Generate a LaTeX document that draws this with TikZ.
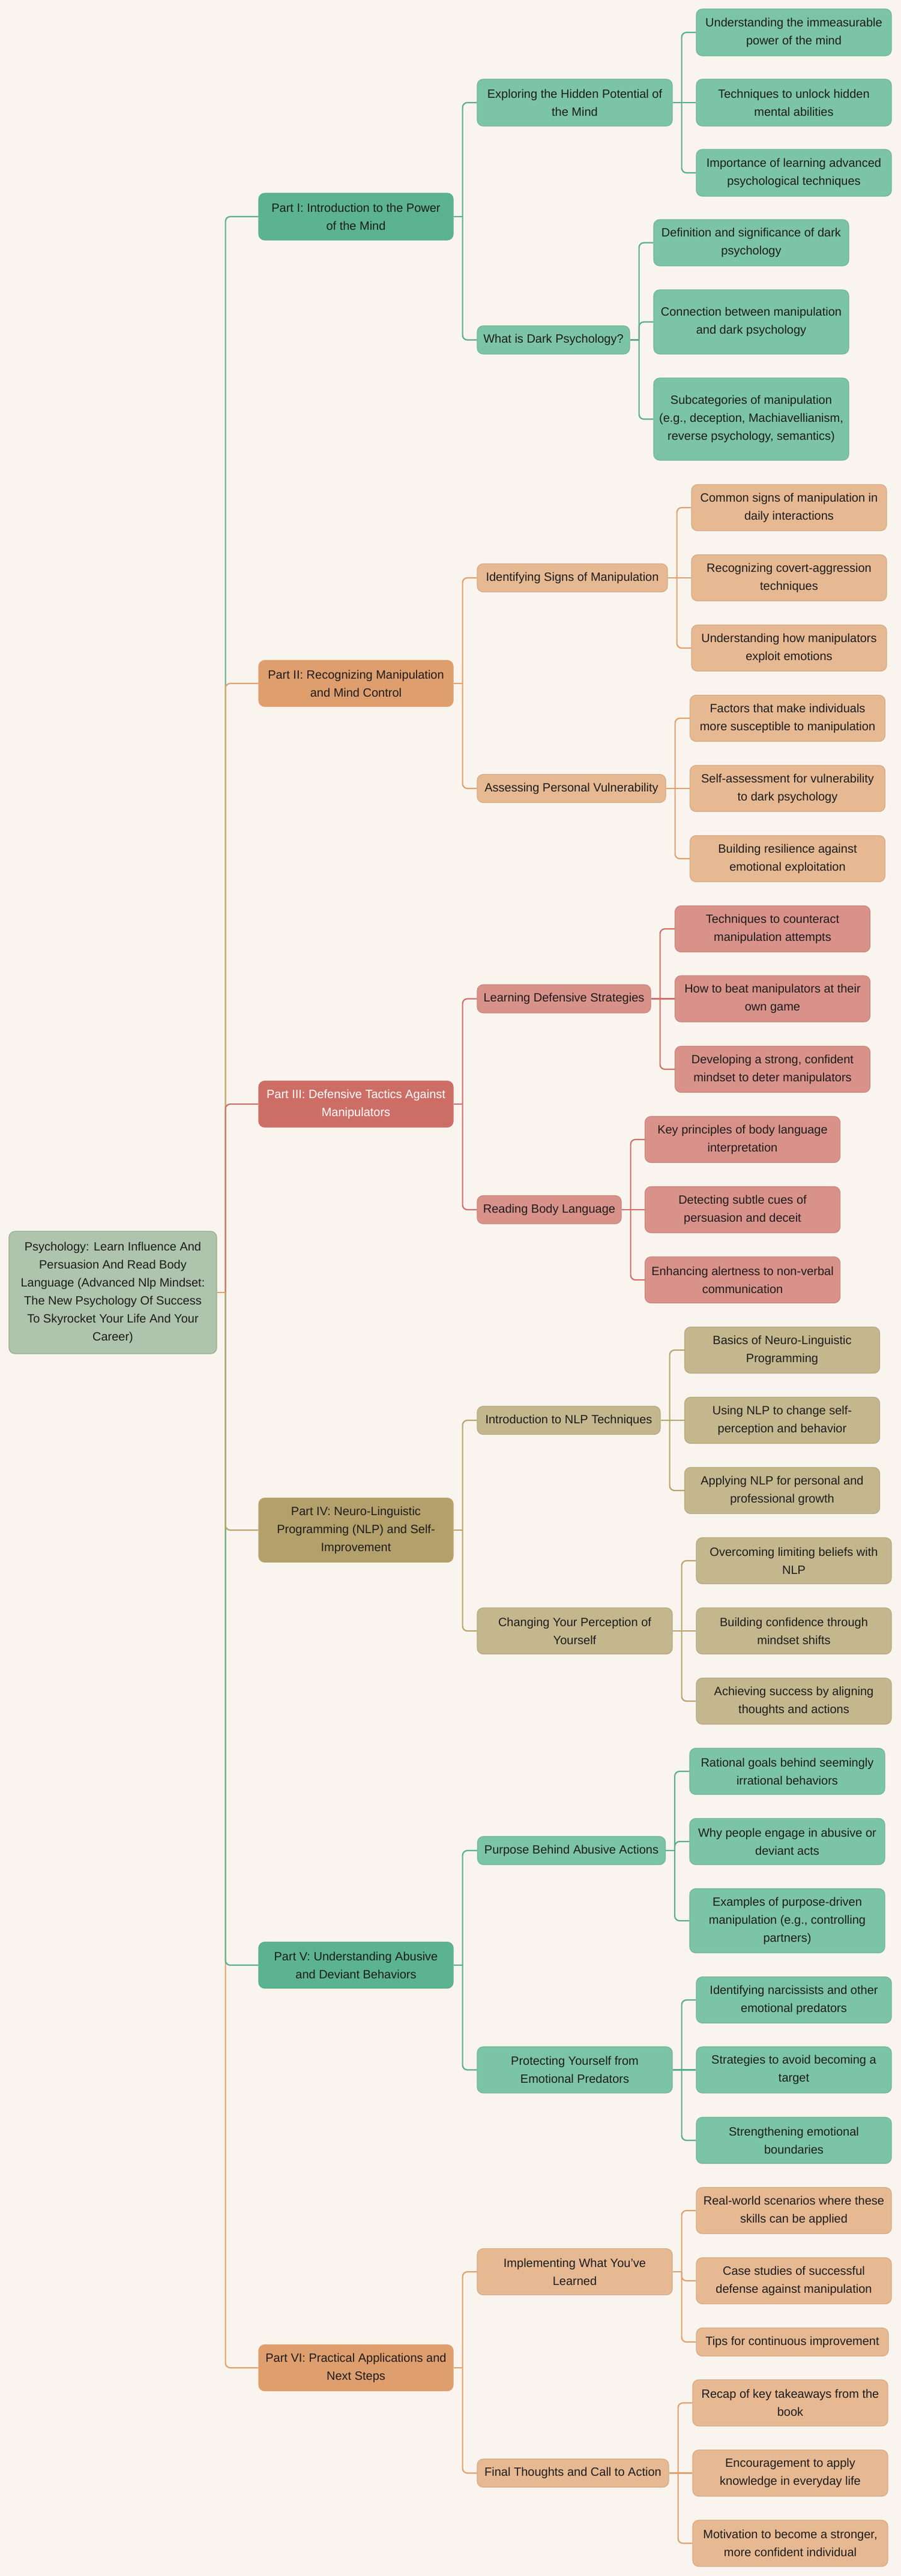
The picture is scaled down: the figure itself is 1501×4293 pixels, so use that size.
\documentclass[tikz,border=0pt]{standalone}
\usepackage{fontspec}
\setmainfont{Liberation Sans}
\usetikzlibrary{positioning}
\definecolor{bgCream}{HTML}{F9F5EE}
\definecolor{inkText}{HTML}{1C1C1C}
\definecolor{rootFill}{HTML}{AFC4AC}
\definecolor{rootLine}{HTML}{93AE8E}
\definecolor{greenPart}{HTML}{5BB391}
\definecolor{greenSub}{HTML}{7CC4A7}
\definecolor{greenLine}{HTML}{5AAE8C}
\definecolor{orangePart}{HTML}{DF9E6D}
\definecolor{orangeSub}{HTML}{E6B993}
\definecolor{orangeLine}{HTML}{E2A06E}
\definecolor{redPart}{HTML}{CD6E66}
\definecolor{redSub}{HTML}{D9928A}
\definecolor{redLine}{HTML}{D0706A}
\definecolor{olivePart}{HTML}{B3A06A}
\definecolor{oliveSub}{HTML}{C4B78D}
\definecolor{oliveLine}{HTML}{B7A46E}

\begin{document}
\begin{tikzpicture}[x=1pt,y=-1pt,
		box/.style={rounded corners=10pt, line width=1.2pt, inner sep=0pt, align=center,
			font=\fontsize{20}{30}\selectfont, text=inkText},
		sz/.style 2 args={minimum width=#1, minimum height=#2},
		rootbox/.style={box, fill=rootFill, draw=rootLine},
		partG/.style={box, fill=greenPart, draw=greenLine},
		partO/.style={box, fill=orangePart, draw=orangeLine},
		partR/.style={box, fill=redPart, draw=redLine, text=white},
		partY/.style={box, fill=olivePart, draw=oliveLine},
		subG/.style={box, fill=greenSub, draw=greenSub!92!black},
		subO/.style={box, fill=orangeSub, draw=orangeSub!92!black},
		subR/.style={box, fill=redSub, draw=redSub!92!black},
		subY/.style={box, fill=oliveSub, draw=oliveSub!92!black},
		ln/.style={line width=2.2pt, rounded corners=8pt},
		lnG/.style={ln, draw=greenLine},
		lnO/.style={ln, draw=orangeLine},
		lnR/.style={ln, draw=redLine},
		lnY/.style={ln, draw=oliveLine}]
	\fill[bgCream] (0,0) rectangle (1501,4293);
	\useasboundingbox (0,0) rectangle (1501,4293);
	
	% root and parts
	\node[rootbox, sz={346}{204}] (root) at (188,2154) {Psychology: Learn Influence And\\Persuasion And Read Body\\Language (Advanced Nlp Mindset:\\The New Psychology Of Success\\To Skyrocket Your Life And Your\\Career)};
	\node[partG, sz={324}{78}] (p1) at (593,361) {Part I: Introduction to the Power\\of the Mind};
	\node[partO, sz={324}{77}] (p2) at (593,1139) {Part II: Recognizing Manipulation\\and Mind Control};
	\node[partR, sz={324}{77}] (p3) at (593,1840) {Part III: Defensive Tactics Against\\Manipulators};
	\node[partY, sz={324}{107}] (p4) at (593,2550) {Part IV: Neuro-Linguistic\\Programming (NLP) and Self-\\Improvement};
	\node[partG, sz={324}{77}] (p5) at (593,3275) {Part V: Understanding Abusive\\and Deviant Behaviors};
	\node[partO, sz={324}{77}] (p6) at (593,3946) {Part VI: Practical Applications and\\Next Steps};
	
	% Part I
	\node[subG, sz={325}{78}] (p1a) at (957.5,171) {Exploring the Hidden Potential of\\the Mind};
	\node[subG, sz={325}{78}] (p1a1) at (1322.5,54) {Understanding the immeasurable\\power of the mind};
	\node[subG, sz={325}{78}] (p1a2) at (1322.5,171) {Techniques to unlock hidden\\mental abilities};
	\node[subG, sz={325}{78}] (p1a3) at (1322.5,288) {Importance of learning advanced\\psychological techniques};
	\node[subG, sz={254}{47}] (p1b) at (922,566.5) {What is Dark Psychology?};
	\node[subG, sz={325}{77}] (p1b1) at (1251.5,404.5) {Definition and significance of dark\\psychology};
	\node[subG, sz={325}{107}] (p1b2) at (1251.5,536.5) {Connection between manipulation\\and dark psychology};
	\node[subG, sz={325}{137}] (p1b3) at (1251.5,698.5) {Subcategories of manipulation\\(e.g., deception, Machiavellianism,\\reverse psychology, semantics)};
	
	% Part II
	\node[subO, sz={317}{47}] (p2a) at (953.5,963) {Identifying Signs of Manipulation};
	\node[subO, sz={325}{77}] (p2a1) at (1314.5,846) {Common signs of manipulation in\\daily interactions};
	\node[subO, sz={325}{77}] (p2a2) at (1314.5,963) {Recognizing covert-aggression\\techniques};
	\node[subO, sz={325}{77}] (p2a3) at (1314.5,1080) {Understanding how manipulators\\exploit emotions};
	\node[subO, sz={314}{47}] (p2b) at (952,1314) {Assessing Personal Vulnerability};
	\node[subO, sz={325}{77}] (p2b1) at (1312,1197) {Factors that make individuals\\more susceptible to manipulation};
	\node[subO, sz={325}{77}] (p2b2) at (1312,1314) {Self-assessment for vulnerability\\to dark psychology};
	\node[subO, sz={325}{77}] (p2b3) at (1312,1431) {Building resilience against\\emotional exploitation};
	
	% Part III
	\node[subR, sz={289}{47}] (p3a) at (939.5,1664.5) {Learning Defensive Strategies};
	\node[subR, sz={325}{77}] (p3a1) at (1287,1548) {Techniques to counteract\\manipulation attempts};
	\node[subR, sz={325}{77}] (p3a2) at (1287,1664.5) {How to beat manipulators at their\\own game};
	\node[subR, sz={325}{77}] (p3a3) at (1287,1782) {Developing a strong, confident\\mindset to deter manipulators};
	\node[subR, sz={240}{47}] (p3b) at (915,2016) {Reading Body Language};
	\node[subR, sz={325}{77}] (p3b1) at (1237,1899) {Key principles of body language\\interpretation};
	\node[subR, sz={325}{77}] (p3b2) at (1237,2016) {Detecting subtle cues of\\persuasion and deceit};
	\node[subR, sz={325}{77}] (p3b3) at (1237,2133) {Enhancing alertness to non-verbal\\communication};
	
	% Part IV
	\node[subY, sz={305}{47}] (p4a) at (947.5,2367) {Introduction to NLP Techniques};
	\node[subY, sz={325}{77}] (p4a1) at (1303,2250) {Basics of Neuro-Linguistic\\Programming};
	\node[subY, sz={325}{77}] (p4a2) at (1303,2367) {Using NLP to change self-\\perception and behavior};
	\node[subY, sz={325}{77}] (p4a3) at (1303,2484) {Applying NLP for personal and\\professional growth};
	\node[subY, sz={325}{77}] (p4b) at (957.5,2718) {Changing Your Perception of\\Yourself};
	\node[subY, sz={325}{77}] (p4b1) at (1322.5,2601) {Overcoming limiting beliefs with\\NLP};
	\node[subY, sz={325}{77}] (p4b2) at (1322.5,2718) {Building confidence through\\mindset shifts};
	\node[subY, sz={325}{77}] (p4b3) at (1322.5,2835) {Achieving success by aligning\\thoughts and actions};
	
	% Part V
	\node[subG, sz={313}{47}] (p5a) at (952,3084) {Purpose Behind Abusive Actions};
	\node[subG, sz={325}{77}] (p5a1) at (1311.5,2952) {Rational goals behind seemingly\\irrational behaviors};
	\node[subG, sz={325}{77}] (p5a2) at (1311.5,3069) {Why people engage in abusive or\\deviant acts};
	\node[subG, sz={325}{107}] (p5a3) at (1311.5,3201) {Examples of purpose-driven\\manipulation (e.g., controlling\\partners)};
	\node[subG, sz={325}{77}] (p5b) at (957.5,3449.5) {Protecting Yourself from\\Emotional Predators};
	\node[subG, sz={325}{77}] (p5b1) at (1322.5,3333) {Identifying narcissists and other\\emotional predators};
	\node[subG, sz={325}{77}] (p5b2) at (1322.5,3449.5) {Strategies to avoid becoming a\\target};
	\node[subG, sz={325}{77}] (p5b3) at (1322.5,3567) {Strengthening emotional\\boundaries};
	
	% Part VI
	\node[subO, sz={325}{77}] (p6a) at (957.5,3786) {Implementing What You’ve\\Learned};
	\node[subO, sz={325}{77}] (p6a1) at (1322.5,3684) {Real-world scenarios where these\\skills can be applied};
	\node[subO, sz={325}{77}] (p6a2) at (1322.5,3801) {Case studies of successful\\defense against manipulation};
	\node[subO, sz={320}{47}] (p6a3) at (1320,3903) {Tips for continuous improvement};
	\node[subO, sz={319}{47}] (p6b) at (954.5,4121.5) {Final Thoughts and Call to Action};
	\node[subO, sz={325}{77}] (p6b1) at (1316.5,4004.5) {Recap of key takeaways from the\\book};
	\node[subO, sz={325}{77}] (p6b2) at (1316.5,4121.5) {Encouragement to apply\\knowledge in everyday life};
	\node[subO, sz={325}{77}] (p6b3) at (1316.5,4238.5) {Motivation to become a stronger,\\more confident individual};
	
	% trunk
	\draw[lnG] (root.east) ++(14,0) |- (p1.west);
	\draw[lnO] (root.east) ++(14,0) |- (p2.west);
	\draw[lnR] (root.east) ++(14,0) |- (p3.west);
	\draw[lnO] (root.east) ++(14,0) |- (p6.west);
	\draw[lnG] (root.east) ++(14,0) |- (p5.west);
	\draw[lnY] (root.east) ++(14,0) |- (p4.west);
	\draw[lnO] (root.east) -- ++(14,0);
	
	% branches, outer leaves
	\foreach \p/\s in {p1/lnG,p2/lnO,p3/lnR,p4/lnY,p5/lnG,p6/lnO} {
		\draw[\s] (\p.east) -- ++(15,0);
		\foreach \b in {a,b} {
			\draw[\s] (\p.east) ++(15,0) |- (\p\b.west);
			\draw[\s] (\p\b.east) -- ++(15,0);
			\foreach \n in {1,3}
				\draw[\s] (\p\b.east) ++(15,0) |- (\p\b\n.west);
		}
	}
	
	% middle leaves
	\draw[lnG] (p1a.east) -- (p1a2.west);
	\draw[lnG] (p1b.east) ++(15,0) |- (p1b2.west);
	\draw[lnO] (p2a.east) -- (p2a2.west);
	\draw[lnO] (p2b.east) -- (p2b2.west);
	\draw[lnR] (p3a.east) -- (p3a2.west);
	\draw[lnR] (p3b.east) -- (p3b2.west);
	\draw[lnY] (p4a.east) -- (p4a2.west);
	\draw[lnY] (p4b.east) -- (p4b2.west);
	\draw[lnG] (p5a.east) ++(15,0) |- (p5a2.west);
	\draw[lnG] (p5b.east) -- (p5b2.west);
	\draw[lnO] (p6a.east) ++(15,0) |- (p6a2.west);
	\draw[lnO] (p6b.east) -- (p6b2.west);
\end{tikzpicture}
\end{document}
